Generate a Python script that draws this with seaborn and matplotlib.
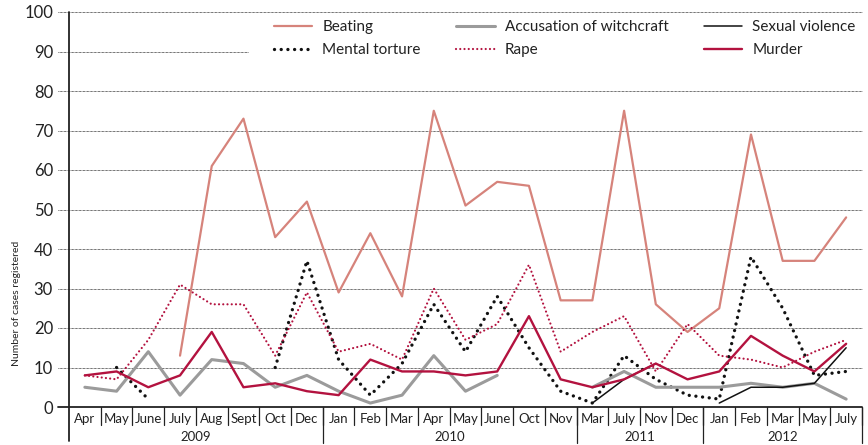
import numpy as np
import pandas as pd
import matplotlib
matplotlib.use("Agg")
import matplotlib.pyplot as plt
import matplotlib.transforms as mtransforms
from matplotlib.patches import Rectangle
import seaborn as sns

nan = np.nan

months = ["Apr", "May", "June", "July", "Aug", "Sept", "Oct", "Dec",
          "Jan", "Feb", "Mar", "Apr", "May", "June", "Oct", "Nov",
          "Mar", "July", "Nov", "Dec",
          "Jan", "Feb", "Mar", "May", "July"]
years = ["2009", "2010", "2011", "2012"]
year_counts = [8, 8, 4, 5]

beating = [nan, nan, nan, 13, 61, 73, 43, 52,
           29, 44, 28, 75, 51, 57, 56, 27,
           27, 75, 26, 19,
           25, 69, 37, 37, 48]
witchcraft = [5, 4, 14, 3, 12, 11, 5, 8,
              4, 1, 3, 13, 4, 8, nan, nan,
              5, 9, 5, 5,
              5, 6, 5, 6, 2]
sexual_violence = [nan, nan, nan, nan, nan, nan, nan, nan,
                   nan, nan, nan, nan, nan, nan, nan, nan,
                   1, 7, 11, nan,
                   1, 5, 5, 6, 15]
mental_torture = [nan, 10, 2, nan, nan, nan, 10, 37,
                  12, 3, 11, 26, 14, 28, 15, 4,
                  1, 13, 7, 3,
                  2, 38, 25, 8, 9]
rape = [8, 7, 17, 31, 26, 26, 13, 29,
        14, 16, 12, 30, 17, 21, 36, 14,
        19, 23, 9, 21,
        13, 12, 10, 14, 17]
murder = [8, 9, 5, 8, 19, 5, 6, 4,
          3, 12, 9, 9, 8, 9, 23, 7,
          5, 7, 11, 7,
          9, 18, 13, 9, 16]

series_names = ["Beating", "Mental torture", "Accusation of witchcraft",
                "Rape", "Sexual violence", "Murder"]
series_values = [beating, mental_torture, witchcraft, rape,
                 sexual_violence, murder]

styles = {
    "Beating": dict(color="#d6837b", lw=1.6, ls="-"),
    "Mental torture": dict(color="#111111", lw=2.4, ls=(0, (0.01, 2.0))),
    "Accusation of witchcraft": dict(color="#9b9b9b", lw=2.2, ls="-"),
    "Rape": dict(color="#b3123f", lw=1.6, ls=(0, (0.01, 1.9))),
    "Sexual violence": dict(color="#111111", lw=1.1, ls="-"),
    "Murder": dict(color="#b3123f", lw=1.7, ls="-"),
}

sns.set_theme(style="white")
plt.rcParams["font.family"] = ["Lato", "DejaVu Sans"]

fig = plt.figure(figsize=(8.68, 4.45), dpi=100)
ax = fig.add_axes([69 / 868, 1 - 407 / 445, (862 - 69) / 868, (407 - 12) / 445])

x = np.arange(len(months))
for name, vals in zip(series_names, series_values):
    v = np.array(vals, dtype=float)
    seg = np.cumsum(np.isnan(v))
    df = pd.DataFrame({"x": x, "v": v, "seg": seg}).dropna()
    st = styles[name]
    first = True
    for s, sub in df.groupby("seg"):
        sns.lineplot(data=sub, x="x", y="v", ax=ax, color=st["color"],
                     linewidth=st["lw"], linestyle=st["ls"], legend=False,
                     label=name if first else None, zorder=3,
                     estimator=None, sort=False)
        first = False

for line in ax.get_lines():
    line.set_dash_capstyle("round")

ax.set_xlim(-0.5, len(months) - 0.5)
ax.set_ylim(0, 100)

# grid lines (dotted), extended left past the axis
trans_y = mtransforms.blended_transform_factory(ax.transAxes, ax.transData)
for yv in range(10, 101, 10):
    ax.plot([-0.014, 1.0], [yv, yv], transform=trans_y, clip_on=False,
            color="#333333", lw=0.7, ls=(0, (0.7, 0.7)), zorder=0.5)
ax.plot([-0.014, 1.0], [0, 0], transform=trans_y, clip_on=False,
        color="#222222", lw=1.3, zorder=4)

# white box behind the legend (above grid, below legend)
ax.add_patch(Rectangle((249 / 868, 1 - 66 / 445), 1 - 249 / 868, 48 / 445,
                       transform=fig.transFigure, facecolor="white",
                       edgecolor="none", zorder=1, clip_on=False))

for sp in ["top", "right", "bottom", "left"]:
    ax.spines[sp].set_visible(False)
ax.tick_params(axis="both", length=0)
ax.set_yticks(range(0, 101, 10))
ax.set_yticklabels([str(v) for v in range(0, 101, 10)], fontsize=12, color="#222222")
ax.tick_params(axis="y", pad=11.5)
ax.set_xticks(x)
ax.set_xticklabels(months, fontsize=9.5, color="#222222")
ax.tick_params(axis="x", pad=4)
ax.set_xlabel("")
ax.set_ylabel("")

# left axis line extended below
trans_x = mtransforms.blended_transform_factory(ax.transData, ax.transAxes)
ax.plot([-0.5, -0.5], [1.0, -0.085], transform=trans_x, clip_on=False,
        color="#222222", lw=1.3, zorder=4)
# month separators
for i in range(1, len(months) + 1):
    ax.plot([i - 0.5, i - 0.5], [0, -0.046], transform=trans_x, clip_on=False,
            color="#222222", lw=0.9, zorder=4)
# year separators and labels
start = 0
for yr, n in zip(years, year_counts):
    end = start + n
    ax.plot([end - 0.5, end - 0.5], [0, -0.091], transform=trans_x, clip_on=False,
            color="#222222", lw=0.9, zorder=4)
    ax.text((start + end - 1) / 2, -0.076, yr, transform=trans_x, ha="center",
            va="center", fontsize=9.5, color="#222222")
    start = end

fig.text(17 / 868, 1 - 303 / 445, "Number of cases registered", rotation=90,
         ha="center", va="center", fontsize=7.5, color="#222222")

handles, labels = ax.get_legend_handles_labels()
order = [labels.index(n) for n in series_names]
leg = ax.legend([handles[i] for i in order], [labels[i] for i in order],
                ncol=3, loc="upper left", bbox_to_anchor=(274 / 868, 1 - 20 / 445),
                bbox_transform=fig.transFigure, frameon=False, fontsize=11,
                handlelength=2.5, handletextpad=0.65, columnspacing=2.35,
                labelspacing=0.6, borderpad=0, borderaxespad=0)
leg.set_zorder(10)
for t in leg.get_texts():
    t.set_color("#222222")
for lh in leg.get_lines():
    lh.set_dash_capstyle("round")

fig.savefig("out.png", dpi=100)
